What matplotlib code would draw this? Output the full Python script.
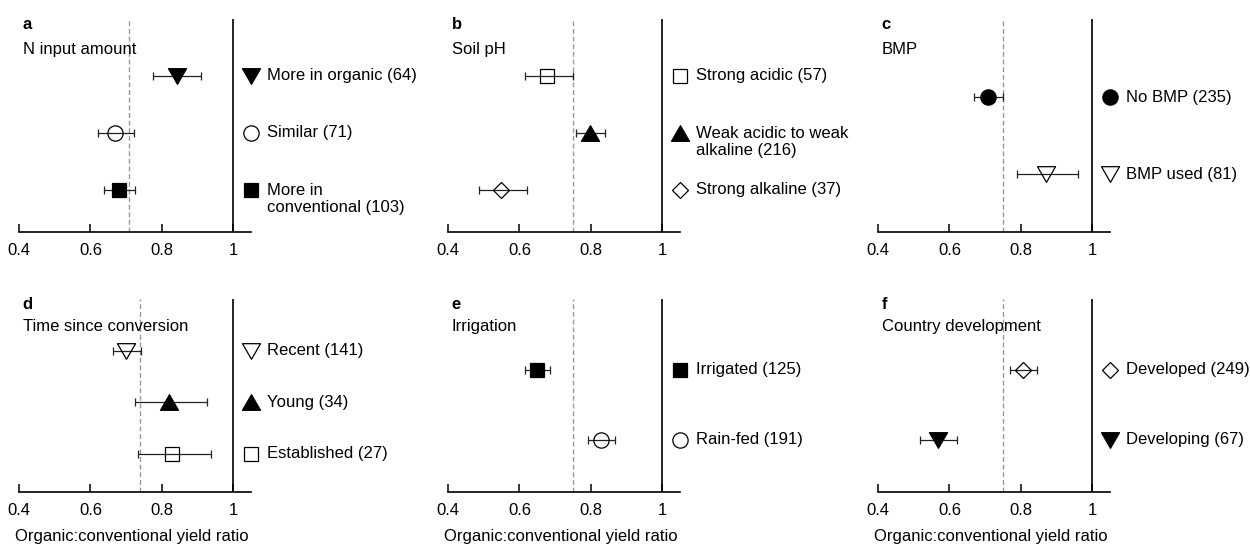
import numpy as np
import matplotlib
matplotlib.use("Agg")
import matplotlib.pyplot as plt
from matplotlib.path import Path

plt.rcParams["font.family"] = ["Liberation Sans", "DejaVu Sans"]
plt.rcParams["font.size"] = 12

# ---- data ----
letters = ["a", "b", "c", "d", "e", "f"]
titles = ["N input amount", "Soil pH", "BMP",
          "Time since conversion", "Irrigation", "Country development"]

cats_a = ["More in organic (64)", "Similar (71)", "More in\nconventional (103)"]
mean_a = [0.842, 0.668, 0.680]
lo_a = [0.776, 0.620, 0.637]
hi_a = [0.910, 0.722, 0.725]

cats_b = ["Strong acidic (57)", "Weak acidic to weak\nalkaline (216)", "Strong alkaline (37)"]
mean_b = [0.678, 0.798, 0.549]
lo_b = [0.616, 0.759, 0.487]
hi_b = [0.751, 0.839, 0.621]

cats_c = ["No BMP (235)", "BMP used (81)"]
mean_c = [0.709, 0.871]
lo_c = [0.670, 0.789]
hi_c = [0.751, 0.959]

cats_d = ["Recent (141)", "Young (34)", "Established (27)"]
mean_d = [0.700, 0.819, 0.830]
lo_d = [0.662, 0.725, 0.733]
hi_d = [0.741, 0.928, 0.939]

cats_e = ["Irrigated (125)", "Rain-fed (191)"]
mean_e = [0.649, 0.830]
lo_e = [0.617, 0.792]
hi_e = [0.685, 0.869]

cats_f = ["Developed (249)", "Developing (67)"]
mean_f = [0.806, 0.567]
lo_f = [0.771, 0.519]
hi_f = [0.846, 0.622]

overall = [0.708, 0.749, 0.749, 0.739, 0.749, 0.749]   # dashed reference lines

# ---- styles ----
def tri(sign):
    v = [(-1, -0.866 * sign), (1, -0.866 * sign), (0, 0.866 * sign), (0, 0)]
    return Path(v, [Path.MOVETO, Path.LINETO, Path.LINETO, Path.CLOSEPOLY])

mk = {"up": (tri(1), 13), "dn": (tri(-1), 13), "s": ("s", 10.5), "o": ("o", 11), "D": ("D", 7.7)}
styles = [
    [("dn", True), ("o", False), ("s", True)],
    [("s", False), ("up", True), ("D", False)],
    [("o", True), ("dn", False)],
    [("dn", False), ("up", True), ("s", False)],
    [("s", True), ("o", False)],
    [("D", False), ("dn", True)],
]

panels = [(cats_a, mean_a, lo_a, hi_a), (cats_b, mean_b, lo_b, hi_b), (cats_c, mean_c, lo_c, hi_c),
          (cats_d, mean_d, lo_d, hi_d), (cats_e, mean_e, lo_e, hi_e), (cats_f, mean_f, lo_f, hi_f)]

W, H = 1250, 544
fig = plt.figure(figsize=(W / 100, H / 100), dpi=100)
lefts = [19, 448, 878]
rows = [(19, 232), (299, 492)]   # (top px, spine px)

for k, (cats, m, lo, hi) in enumerate(panels):
    r, c = divmod(k, 3)
    top, bot = rows[r]
    ax = fig.add_axes([lefts[c] / W, 1 - bot / H, 232 / W, (bot - top) / H])
    ax.set_xlim(0.4, 1.05)
    ax.set_ylim(0.26, 4.0)
    ys = [3, 2, 1] if len(cats) == 3 else [2.63, 1.27]

    ax.axvline(overall[k], color="#9a9a9a", lw=1, ls=(0, (3.5, 2)), zorder=1)
    ax.axvline(1.0, color="black", lw=1.2, zorder=1)

    for i, (cat, v, l, h) in enumerate(zip(cats, m, lo, hi)):
        key, filled = styles[k][i]
        marker, ms = mk[key]
        fc = "black" if filled else "none"
        ax.errorbar([v], [ys[i]], xerr=[[v - l], [h - v]], fmt="none", ecolor="#222222",
                    elinewidth=0.9, capsize=3, capthick=0.9, zorder=2)
        ax.plot([v], [ys[i]], marker=marker, ms=ms, mfc=fc, mec="black", mew=0.9,
                ls="none", zorder=3)
        # legend-like label to the right of the axis
        ax.plot([1.05], [ys[i]], marker=marker, ms=ms, mfc=fc, mec="black", mew=0.9,
                ls="none", clip_on=False, zorder=3)
        dy = -6.4 if "\n" in cat else 0
        ax.annotate(cat, (1.05, ys[i]), xytext=(11.5, dy), textcoords="offset points",
                    ha="left", va="center", linespacing=1.2, annotation_clip=False)

    ax.text(0.41, 3.9, letters[k], fontweight="bold", ha="left", va="center")
    ax.text(0.41, 3.46, titles[k], ha="left", va="center")

    for s in ["top", "left", "right"]:
        ax.spines[s].set_visible(False)
    ax.spines["bottom"].set_linewidth(1.2)
    ax.set_yticks([])
    ax.set_xticks([0.4, 0.6, 0.8, 1.0])
    ax.set_xticklabels(["0.4", "0.6", "0.8", "1"])
    ax.tick_params(axis="x", direction="in", length=6, width=1.1, pad=8, labelsize=12)
    if r == 1:
        ax.annotate("Organic:conventional yield ratio", (0, 0), xycoords="axes fraction",
                    xytext=(-3, -32), textcoords="offset points", ha="left", va="center")

fig.savefig("out.png", dpi=100)
